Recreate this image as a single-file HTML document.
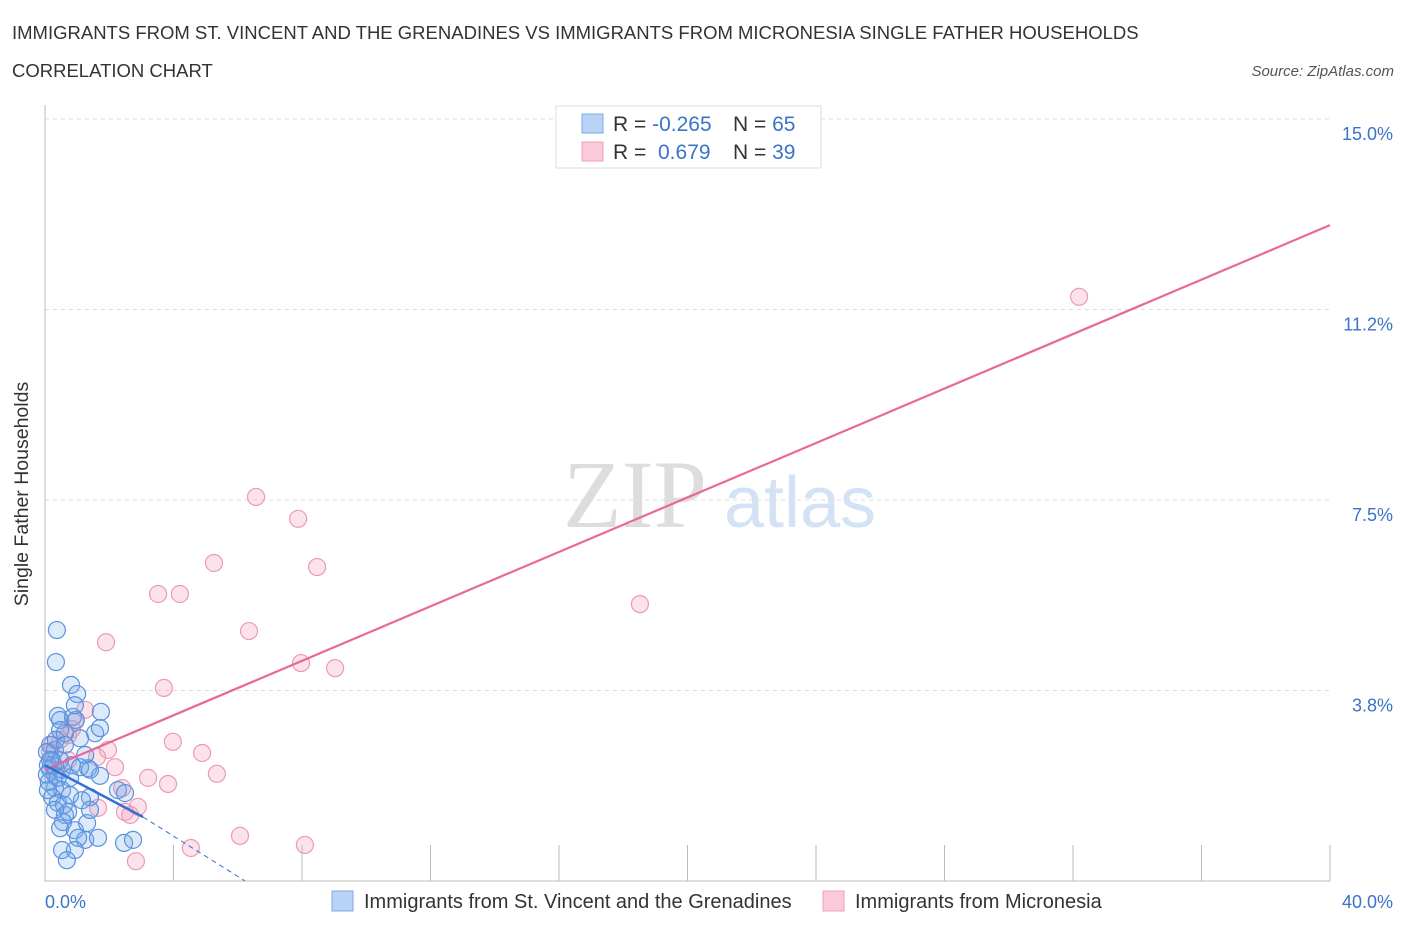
<!DOCTYPE html>
<html><head><meta charset="utf-8"><style>
body{margin:0;background:#fff;font-family:"Liberation Sans",sans-serif;}
svg text{font-family:"Liberation Sans",sans-serif;}
</style></head><body>
<svg id="chart" width="1406" height="930" xmlns="http://www.w3.org/2000/svg">
<text x="12" y="39" font-size="18.5" fill="#333">IMMIGRANTS FROM ST. VINCENT AND THE GRENADINES VS IMMIGRANTS FROM MICRONESIA SINGLE FATHER HOUSEHOLDS</text>
<text x="12" y="77" font-size="18.5" fill="#333">CORRELATION CHART</text>
<text x="1394" y="76" font-size="15" fill="#555" font-style="italic" text-anchor="end">Source: ZipAtlas.com</text>
<text x="28" y="494" font-size="19.5" fill="#333" text-anchor="middle" transform="rotate(-90 28 494)">Single Father Households</text>
<g>
<text x="635" y="527" font-size="96" fill="#ddd" text-anchor="middle" style="font-family:'Liberation Serif',serif">ZIP</text>
<text x="800" y="527" font-size="72" fill="#d3e2f5" text-anchor="middle">atlas</text>
</g>
<g id="grid"></g><g id="axes"></g><g id="pts"></g><g id="trends"></g>
<g>
<rect x="556" y="106" width="265" height="62" fill="#fff" stroke="#ddd"/>
<rect x="582" y="114" width="21" height="19" fill="#b8d3f5" stroke="#7fa9e0"/>
<rect x="582" y="142" width="21" height="19" fill="#fbcad8" stroke="#eea0b8"/>
<text x="613" y="131" font-size="21" fill="#333">R = <tspan fill="#3b73c8">-0.265</tspan><tspan x="733">N = </tspan><tspan fill="#3b73c8">65</tspan></text>
<text x="613" y="159" font-size="21" fill="#333">R = <tspan x="658" fill="#3b73c8">0.679</tspan><tspan x="733">N = </tspan><tspan fill="#3b73c8">39</tspan></text>
</g>
<g>
<rect x="332" y="891" width="21" height="20" fill="#b8d3f5" stroke="#7fa9e0"/>
<text x="364" y="908" font-size="20" fill="#333">Immigrants from St. Vincent and the Grenadines</text>
<rect x="823" y="891" width="21" height="20" fill="#fbcad8" stroke="#eea0b8"/>
<text x="855" y="908" font-size="20" fill="#333">Immigrants from Micronesia</text>
</g>
</svg>
<script>
const blueX=[0.37,0.34,0.81,1.0,0.4,0.47,0.87,0.96,1.74,0.93,1.56,0.47,0.16,0.31,0.22,0.09,0.16,0.31,0.53,0.78,1.25,1.34,1.71,0.53,0.31,0.22,0.4,0.59,1.4,1.15,2.27,2.49,0.62,0.72,0.56,0.47,0.93,1.31,1.25,1.03,0.53,0.93,0.68,1.65,2.46,2.74,0.06,0.06,0.12,0.25,0.47,0.84,1.09,1.4,0.34,0.62,0.09,0.78,0.31,1.4,0.4,0.16,0.62,1.09,1.71];
const blueY=[4.94,4.31,3.86,3.68,3.25,3.17,3.23,3.17,3.33,3.46,2.91,2.97,2.68,2.58,2.38,2.28,2.19,2.09,2.19,2.03,2.48,2.22,2.07,1.79,1.83,1.65,1.54,1.5,1.65,1.59,1.79,1.73,1.3,1.36,1.16,1.04,1.0,1.14,0.81,0.85,0.61,0.61,0.41,0.85,0.75,0.81,2.54,2.09,1.95,2.28,2.38,2.28,2.24,2.19,2.78,2.91,1.79,1.69,1.4,1.4,2.03,2.38,2.68,2.81,3.01];
const pinkX=[6.57,7.88,5.26,8.47,3.52,4.2,18.52,1.9,6.35,7.97,9.03,3.7,32.19,1.25,0.84,0.72,0.47,0.22,0.16,3.98,4.89,1.96,1.62,2.18,5.35,3.21,3.83,2.4,2.89,2.49,2.65,1.65,6.07,4.54,8.09,2.83,0.72,0.93,0.31];
const pinkY=[7.56,7.13,6.26,6.18,5.65,5.65,5.45,4.7,4.92,4.29,4.19,3.8,11.5,3.37,2.99,2.87,2.78,2.68,2.54,2.74,2.52,2.58,2.44,2.24,2.11,2.03,1.91,1.83,1.46,1.36,1.3,1.44,0.89,0.65,0.71,0.39,2.38,3.13,2.19];
const yTicks=[3.75,7.5,11.25,15];
const yTickLabels=["3.8%","7.5%","11.2%","15.0%"];
const xTickLabels=["0.0%","40.0%"];
const blueTrend=[[0,2.28],[3.05,1.26]];
const blueDash=[[3.05,1.26],[6.23,0]];
const pinkTrend=[[0,2.19],[40,12.91]];
const NS="http://www.w3.org/2000/svg";
const X=v=>45+v*1285/40, Y=v=>881-v*50.8;
function mk(t,a,p){const e=document.createElementNS(NS,t);for(const k in a)e.setAttribute(k,a[k]);p.appendChild(e);return e;}
const grid=document.getElementById('grid'),axes=document.getElementById('axes');
yTicks.forEach((t,i)=>{
 const l=mk('line',{x1:45,x2:1330,y1:Y(t),y2:Y(t),stroke:'#ddd','stroke-dasharray':'4,4'},grid);
 
 
 const tx=mk('text',{x:1393,y:Y(t)+21,'font-size':18,fill:'#3b73c8','text-anchor':'end'},axes);
 tx.textContent=yTickLabels[i];
 
 
});
const ax=mk('line',{x1:45,x2:1330,y1:881,y2:881,stroke:'#bbb'},axes);


const ay=mk('line',{x1:45,x2:45,y1:105,y2:881,stroke:'#bbb'},axes);


for(let i=1;i<=10;i++){const xx=45+i*128.5;const tk=mk('line',{x1:xx,x2:xx,y1:845,y2:881,stroke:'#bbb'},axes);
 
 }
[[0,'start',45],[1,'end',1393]].forEach(([i,a,x])=>{const t=mk('text',{x:x,y:908,'font-size':18,fill:'#3b73c8','text-anchor':a},axes);t.textContent=xTickLabels[i];
 
 });
const pts=document.getElementById('pts');
pinkX.forEach((v,i)=>{const c=mk('circle',{cx:X(v),cy:Y(pinkY[i]),r:8.5,fill:'rgba(246,160,190,0.3)',stroke:'#eb9ab6','stroke-width':1.2},pts);
 
 });
blueX.forEach((v,i)=>{const c=mk('circle',{cx:X(v),cy:Y(blueY[i]),r:8.5,fill:'rgba(120,170,235,0.25)',stroke:'#5a92dc','stroke-width':1.2},pts);
 
 });
const tr=document.getElementById('trends');
const l1=mk('line',{x1:X(pinkTrend[0][0]),y1:Y(pinkTrend[0][1]),x2:X(pinkTrend[1][0]),y2:Y(pinkTrend[1][1]),stroke:'#e8689a','stroke-width':2.2},tr);


const l2=mk('line',{x1:X(blueTrend[0][0]),y1:Y(blueTrend[0][1]),x2:X(blueTrend[1][0]),y2:Y(blueTrend[1][1]),stroke:'#3270d0','stroke-width':2.5},tr);


const l3=mk('line',{x1:X(blueDash[0][0]),y1:Y(blueDash[0][1]),x2:X(blueDash[1][0]),y2:Y(blueDash[1][1]),stroke:'#3270d0','stroke-width':1,'stroke-dasharray':'5,4'},tr);


</script>
</body></html>
